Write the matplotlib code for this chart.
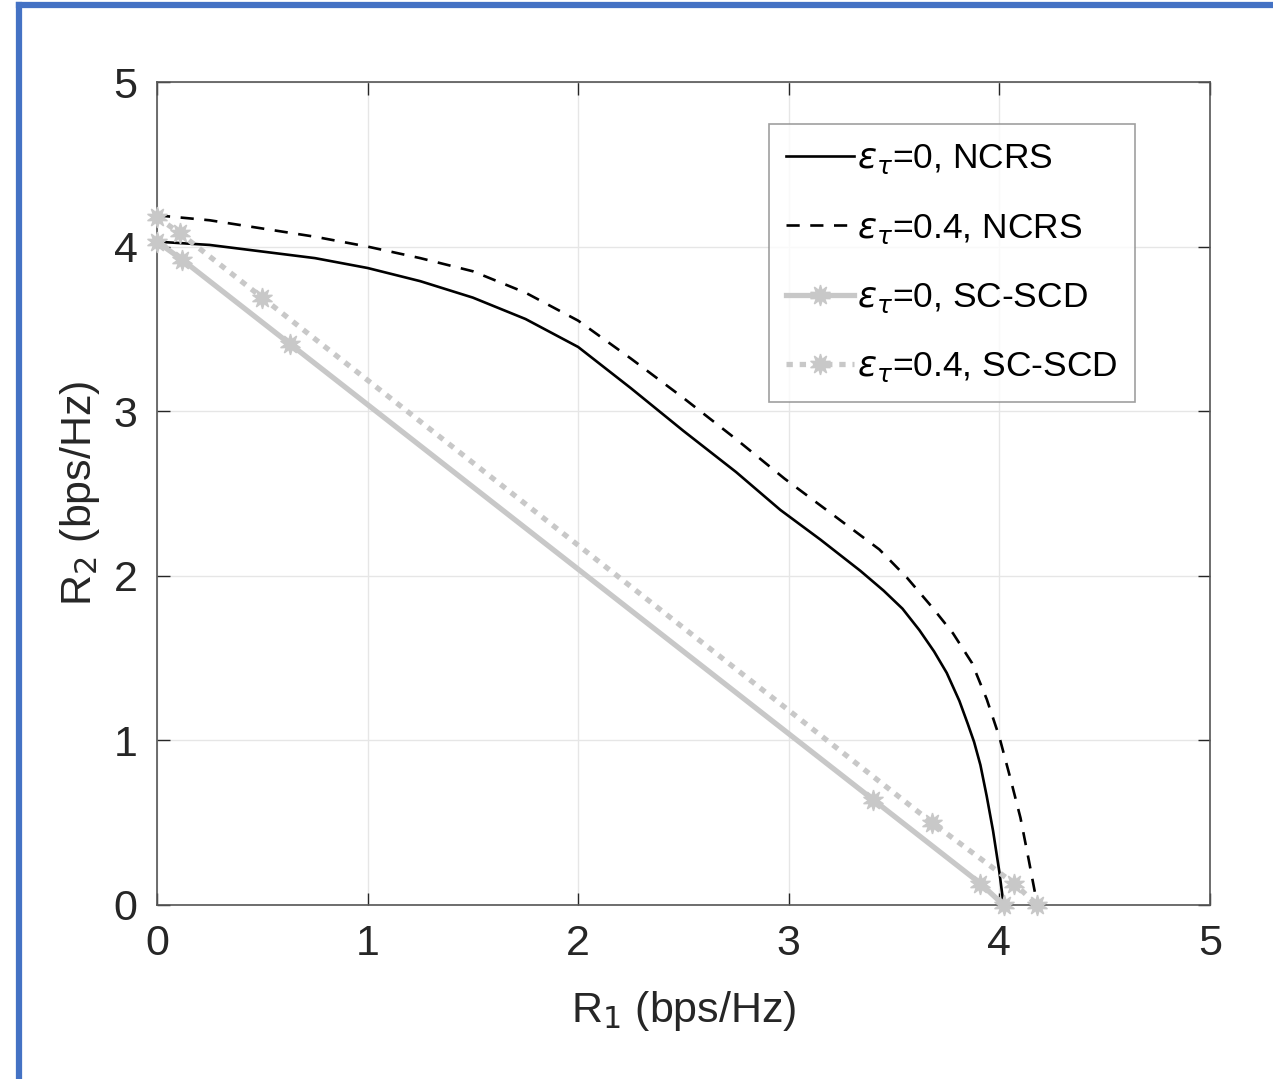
import matplotlib
matplotlib.use('Agg')
import matplotlib.pyplot as plt
from matplotlib.lines import Line2D

plt.rcParams['font.family'] = ['Liberation Sans', 'DejaVu Sans']
plt.rcParams['mathtext.fontset'] = 'dejavusans'

# rate region, NCRS
ncrs0_r1 = [0, 0.25, 0.5, 0.75, 1.0, 1.25, 1.5, 1.75, 2.0, 2.25, 2.5, 2.75, 2.96, 3.15, 3.34, 3.45, 3.54, 3.62, 3.69, 3.75, 3.81, 3.85, 3.88, 3.91, 3.94, 3.97, 4.0, 4.02]
ncrs0_r2 = [4.03, 4.01, 3.97, 3.93, 3.87, 3.79, 3.69, 3.56, 3.39, 3.14, 2.88, 2.63, 2.40, 2.22, 2.03, 1.91, 1.80, 1.67, 1.54, 1.41, 1.24, 1.10, 0.99, 0.85, 0.66, 0.45, 0.20, 0]
ncrs4_r1 = [0, 0.25, 0.5, 0.75, 1.0, 1.25, 1.5, 1.75, 2.0, 2.25, 2.5, 2.75, 2.98, 3.2, 3.43, 3.56, 3.68, 3.78, 3.87, 3.94, 4.0, 4.05, 4.1, 4.14, 4.18]
ncrs4_r2 = [4.19, 4.16, 4.11, 4.06, 4.00, 3.93, 3.85, 3.72, 3.55, 3.32, 3.08, 2.83, 2.59, 2.38, 2.16, 1.99, 1.81, 1.65, 1.47, 1.25, 1.02, 0.78, 0.53, 0.27, 0]

# SC-SCD
scd0_r1 = [0, 0.12, 0.63, 3.40, 3.91, 4.02]
scd0_r2 = [4.03, 3.92, 3.41, 0.64, 0.13, 0]
scd4_r1 = [0, 0.11, 0.50, 3.68, 4.07, 4.18]
scd4_r2 = [4.18, 4.08, 3.69, 0.50, 0.13, 0]

labels = [r'$\epsilon_{\tau}$=0, NCRS', r'$\epsilon_{\tau}$=0.4, NCRS',
          r'$\epsilon_{\tau}$=0, SC-SCD', r'$\epsilon_{\tau}$=0.4, SC-SCD']

ink = '#262626'
gray = '#c8c8c8'
star = (10, 1, 0)

fig = plt.figure(figsize=(12.73, 10.79), dpi=100)
ax = fig.add_axes([0.1233, 0.1613, 0.8272, 0.7627])

ax.plot(ncrs0_r1, ncrs0_r2, '-', c='black', lw=1.9, label=labels[0])
ax.plot(ncrs4_r1, ncrs4_r2, '--', c='black', lw=1.9, dashes=(5, 4), label=labels[1])
ax.plot(scd0_r1, scd0_r2, '-', c=gray, lw=3.8, marker=star, ms=15, mec=gray, mfc=gray,
        label=labels[2], clip_on=False, zorder=3)
ax.plot(scd4_r1, scd4_r2, ':', c=gray, lw=3.8, marker=star, ms=15, mec=gray, mfc=gray,
        dashes=(1.2, 1.3), label=labels[3], clip_on=False, zorder=3)

ax.set_xlim(0, 5)
ax.set_ylim(0, 5)
ax.set_xticks(range(6))
ax.set_yticks(range(6))
ax.grid(True, color='#e6e6e6', lw=1.0)
ax.set_axisbelow(True)
ax.tick_params(direction='in', length=9, width=1, colors=ink, labelsize=31, pad=14,
               top=True, right=True)
for s in ax.spines.values():
    s.set_color('#555555')
    s.set_linewidth(1.2)

ax.set_xlabel('R$_1$ (bps/Hz)', fontsize=31, color=ink, labelpad=18)
ax.set_ylabel('R$_2$ (bps/Hz)', fontsize=31, color=ink, labelpad=8)

leg = ax.legend(loc='upper right', bbox_to_anchor=(0.929, 0.9485), fontsize=25.5,
                frameon=True, fancybox=False, edgecolor='#888888', handlelength=1.9,
                handletextpad=0.1, borderpad=0.5, labelspacing=1.0, borderaxespad=0)
leg.get_frame().set_linewidth(1.2)

# blue frame of the original screenshot
fig.add_artist(Line2D([0.0153, 1.0], [0.9958, 0.9958], color='#4472c4', lw=4.5,
                      transform=fig.transFigure))
fig.add_artist(Line2D([0.0153, 0.0153], [0.0, 0.9958], color='#4472c4', lw=4.5,
                      transform=fig.transFigure))

fig.savefig('out.png', dpi=100)
